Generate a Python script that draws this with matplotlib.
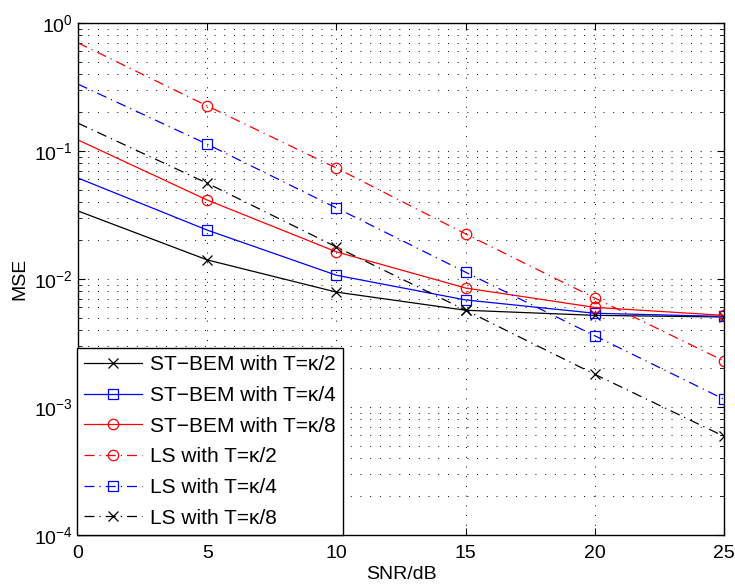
import matplotlib
matplotlib.use("Agg")
import matplotlib.pyplot as plt
import numpy as np
from matplotlib.ticker import LogLocator, FixedLocator, NullLocator
from matplotlib.lines import Line2D

plt.rcParams['font.family'] = ['Liberation Sans', 'DejaVu Sans']
plt.rcParams['mathtext.fontset'] = 'custom'
plt.rcParams['mathtext.rm'] = 'Liberation Sans'
plt.rcParams['mathtext.it'] = 'Liberation Sans:italic'
plt.rcParams['axes.unicode_minus'] = True

snr = [0, 5, 10, 15, 20, 25]
stbem_k2 = [0.034, 0.0141, 0.0079, 0.0057, 0.0052, 0.00505]
stbem_k4 = [0.0615, 0.0241, 0.0107, 0.00686, 0.0054, 0.0051]
stbem_k8 = [0.122, 0.0414, 0.0163, 0.0085, 0.0060, 0.0052]
ls_k2 = [0.70, 0.225, 0.0736, 0.0225, 0.0071, 0.00229]
ls_k4 = [0.333, 0.113, 0.0359, 0.0113, 0.0036, 0.00115]
ls_k8 = [0.165, 0.056, 0.0178, 0.0057, 0.0018, 0.00059]

labels = ["ST\u2212BEM with T=\u03ba/2", "ST\u2212BEM with T=\u03ba/4", "ST\u2212BEM with T=\u03ba/8",
          "LS with T=\u03ba/2", "LS with T=\u03ba/4", "LS with T=\u03ba/8"]

fig = plt.figure(figsize=(7.35, 5.84), dpi=100)
ax = fig.add_axes([78/735, 49/584, (724-78)/735, (535-23)/584])

lw = 0.9
ms = 7.5
dashdot = (0, (8, 4, 1, 4))
specs = [
    (stbem_k2, 'k', 'x', '-'),
    (stbem_k4, 'b', 's', '-'),
    (stbem_k8, 'r', 'o', '-'),
    (ls_k2, 'r', 'o', dashdot),
    (ls_k4, 'b', 's', dashdot),
    (ls_k8, 'k', 'x', dashdot),
]
for (vals, c, m, ls), lab in zip(specs, labels):
    ax.plot(snr, vals, color=c, linestyle=ls, linewidth=lw, label=lab)
    ax.plot(snr[1:], vals[1:], color=c, linestyle='none', marker=m, markersize=ms,
            markerfacecolor='none', markeredgecolor=c, markeredgewidth=0.9)

handles = [Line2D([], [], color=c, linestyle=ls, linewidth=lw, marker=m, markersize=ms,
                  markerfacecolor='none', markeredgecolor=c, markeredgewidth=0.9)
           for (vals, c, m, ls) in specs]

ax.set_yscale('log')
ax.set_xlim(0, 25)
ax.set_ylim(1e-4, 1)
ax.xaxis.set_major_locator(FixedLocator([0, 5, 10, 15, 20, 25]))
ax.xaxis.set_minor_locator(NullLocator())
ax.yaxis.set_major_locator(LogLocator(base=10, numticks=10))
ax.yaxis.set_minor_locator(LogLocator(base=10, subs=np.arange(2, 10), numticks=20))

gstyle = dict(color='k', linestyle=(0, (1, 9)), linewidth=0.7)
ax.grid(True, which='major', axis='both', **gstyle)
ax.grid(True, which='minor', axis='y', **gstyle)

ax.tick_params(which='both', direction='in', top=True, right=True, labelsize=14)
ax.tick_params(which='major', length=5, width=0.8)
ax.tick_params(which='minor', length=3, width=0.6)
ax.tick_params(axis='x', pad=7)
for s in ax.spines.values():
    s.set_linewidth(1.0)

ax.set_xlabel("SNR/dB", fontsize=14, labelpad=3)
ax.set_ylabel("MSE", fontsize=14, labelpad=4)

leg = ax.legend(handles, labels, loc='lower left', bbox_to_anchor=(-0.002, 0), borderaxespad=0,
                fontsize=15, handlelength=2.8, handletextpad=0.35, labelspacing=0.56,
                fancybox=False, framealpha=1, edgecolor='k', borderpad=0.35)
leg.get_frame().set_linewidth(1.0)

fig.savefig("out.png", dpi=100)
